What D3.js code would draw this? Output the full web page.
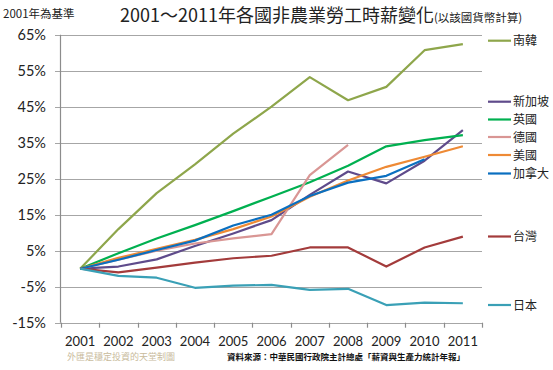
<!DOCTYPE html>
<html>
<head>
<meta charset="UTF-8">
<title>2001～2011年各國非農業勞工時薪變化</title>
<script src="https://cdn.jsdelivr.net/npm/d3@7"></script>
<style>
    body { margin: 0; background: #fff; }
    svg { display: block; }
    .num { font-family: Lato, "Noto Sans", sans-serif; fill: #222; }
    .cjk { font-family: "Noto Sans CJK TC", "Noto Sans CJK SC", sans-serif; fill: #222; }
    .grid line { stroke: #a6a6a6; stroke-width: 1.2; }
    .series { fill: none; stroke-width: 2.2; stroke-linejoin: round; }
</style>
</head>
<body>
<script>
// years and series, % change vs 2001
var years = ["2001","2002","2003","2004","2005","2006","2007","2008","2009","2010","2011"];
var yTicks = [65, 55, 45, 35, 25, 15, 5, -5, -15];

var korea     = [0, 11, 21, 29, 37.5, 45, 53.2, 46.8, 50.5, 60.7, 62.4];
var singapore = [0, 0.6, 2.6, 6.3, 9.8, 13.5, 20.5, 27, 23.7, 30, 38.5];
var uk        = [0, 4.3, 8.4, 12.1, 16, 20, 24, 28.6, 34, 35.7, 37.1];
var germany   = [0, 2.5, 5, 7, 8.4, 9.6, 26, 34.4];
var usa       = [0, 3, 5.5, 8, 11, 14.5, 20, 24.5, 28.3, 31.1, 34];
var canada    = [0, 2.5, 5.2, 7.8, 12, 15, 20.2, 23.9, 25.8, 30.4];
var taiwan    = [0, -1, 0.3, 1.7, 2.9, 3.6, 5.9, 5.9, 0.6, 5.9, 8.9];
var japan     = [0, -2, -2.5, -5.3, -4.7, -4.5, -5.9, -5.6, -10.1, -9.4, -9.6];

var seriesNames = ["南韓", "新加坡", "英國", "德國", "美國", "加拿大", "台灣", "日本"];
var seriesData = [korea, singapore, uk, germany, usa, canada, taiwan, japan];
var seriesColors = ["#8ea64b", "#5f4b8b", "#00b050", "#d99694", "#ee8a35", "#0a6fc0", "#a33b3b", "#3aa0b6"];
// legend rows placed by the end value, like the original
var legendY = [40.7, 101.7, 119.5, 137, 155, 173.5, 236.5, 305];

var W = 553, H = 370;
var svg = d3.select("body").append("svg").attr("width", W).attr("height", H);

var x = d3.scaleBand().domain(years).range([61, 482]).paddingInner(0).paddingOuter(0);
var y = d3.scaleLinear().domain([-15, 65]).range([322.7, 34.7]);

// gridlines
svg.append("g").attr("class", "grid")
    .selectAll("line").data(yTicks).join("line")
    .attr("x1", 55).attr("x2", 482)
    .attr("y1", function (d) { return Math.round(y(d)) + 0.5; })
    .attr("y2", function (d) { return Math.round(y(d)) + 0.5; });

// y axis line
svg.append("line")
    .attr("x1", 60.5).attr("x2", 60.5)
    .attr("y1", y(65)).attr("y2", y(-15))
    .attr("stroke", "#8c8c8c").attr("stroke-width", 1.2);

// x axis ticks on band edges
var edges = years.map(function (d) { return x(d); }).concat([x.range()[1]]);
svg.append("g").selectAll("line").data(edges).join("line")
    .attr("x1", function (d) { return Math.round(d) + 0.5; })
    .attr("x2", function (d) { return Math.round(d) + 0.5; })
    .attr("y1", y(-15)).attr("y2", y(-15) + 5)
    .attr("stroke", "#8c8c8c").attr("stroke-width", 1.2);

// y labels
svg.append("g").selectAll("text").data(yTicks).join("text")
    .attr("class", "num")
    .attr("x", 46).attr("y", function (d) { return y(d) + 5; })
    .attr("text-anchor", "end").attr("font-size", 14.5)
    .text(function (d) { return d + "%"; });

// x labels
svg.append("g").selectAll("text").data(years).join("text")
    .attr("class", "num")
    .attr("x", function (d) { return x(d) + x.bandwidth() / 2; })
    .attr("y", 346).attr("text-anchor", "middle").attr("font-size", 13)
    .text(function (d) { return d; });

// series lines
var line = d3.line()
    .x(function (d, i) { return x(years[i]) + x.bandwidth() / 2; })
    .y(function (d) { return y(d); });

svg.append("g").selectAll("path").data(seriesData).join("path")
    .attr("class", "series")
    .attr("stroke", function (d, i) { return seriesColors[i]; })
    .attr("d", line);

// legend
var lg = svg.append("g").selectAll("g").data(seriesNames).join("g")
    .attr("transform", function (d, i) { return "translate(488," + legendY[i] + ")"; });
lg.append("line").attr("x1", 0).attr("x2", 23).attr("y1", 0).attr("y2", 0)
    .attr("stroke-width", 2.2)
    .attr("stroke", function (d, i) { return seriesColors[i]; });
lg.append("text").attr("class", "cjk")
    .attr("x", 25).attr("y", 4.5).attr("font-size", 12)
    .text(function (d) { return d; });

// titles and notes
svg.append("text").attr("class", "cjk").attr("x", 3).attr("y", 18)
    .attr("font-size", 11.5).text("2001年為基準");

var title = svg.append("text").attr("class", "cjk").attr("x", 120).attr("y", 22);
title.append("tspan").attr("font-size", 18).attr("fill", "#222").text("2001～2011年各國非農業勞工時薪變化");
title.append("tspan").attr("font-size", 11.5).attr("fill", "#222").text("(以該國貨幣計算)");

svg.append("text").attr("class", "cjk").attr("x", 67).attr("y", 360)
    .attr("font-size", 9).style("fill", "#c9bb9c").text("外匯是穩定投資的天堂制圖");

svg.append("text").attr("class", "cjk").attr("x", 227).attr("y", 360)
    .attr("font-size", 8.5).attr("font-weight", "bold").style("fill", "#111")
    .text("資料來源：中華民國行政院主計總處「薪資與生產力統計年報」");
</script>
</body>
</html>
